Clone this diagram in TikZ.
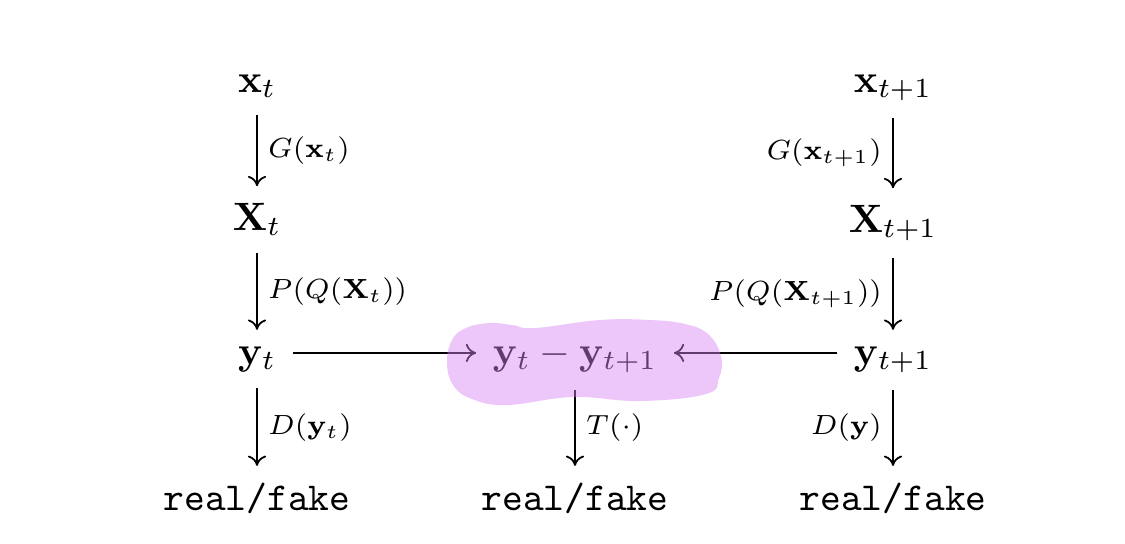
\documentclass[tikz,border=0pt]{standalone}
\usepackage{amssymb,amsmath}
\usepackage{tikz}
\usepackage{xcolor}
\usetikzlibrary{arrows.meta}
\definecolor{highlight}{RGB}{217,133,244}

\begin{document}
\begin{tikzpicture}[
    x=0.2525pt, y=-0.2525pt,
    every node/.style={anchor=base, inner sep=4pt},
    map/.style={-{Computer Modern Rightarrow[length=2.6pt, width=4.6pt]}, line width=0.45pt},
    lab/.style={font=\scriptsize, inner sep=2.6pt}
]
  \fill[white] (0,0) rectangle (1125,543);

  % left column (frame t)
  \node (xt)  at (257,92)  {$\mathbf{x}_t$};
  \node (Xt)  at (257,230) {$\mathbf{X}_t$};
  \node (yt)  at (257,364) {$\mathbf{y}_t$};
  \node (rft) at (257,510) {\texttt{real/fake}};

  % right column (frame t+1)
  \node (xs)  at (893,92)  {$\mathbf{x}_{t+1}$};
  \node (Xs)  at (893,232) {$\mathbf{X}_{t+1}$};
  \node (ys)  at (893,364) {$\mathbf{y}_{t+1}$};
  \node (rfs) at (893,510) {\texttt{real/fake}};

  % middle column (difference)
  \node (yd)  at (575,364) {$\mathbf{y}_t - \mathbf{y}_{t+1}$};
  \node (rfd) at (575,510) {\texttt{real/fake}};

  % vertical maps
  \draw[map] (xt) -- node[lab, right] {$G(\mathbf{x}_t)$} (Xt);
  \draw[map] (Xt) -- node[lab, right] {$P(Q(\mathbf{X}_t))$} (yt);
  \draw[map] (yt) -- node[lab, right] {$D(\mathbf{y}_t)$} (rft);
  \draw[map] (xs) -- node[lab, left] {$G(\mathbf{x}_{t+1})$} (Xs);
  \draw[map] (Xs) -- node[lab, left] {$P(Q(\mathbf{X}_{t+1}))$} (ys);
  \draw[map] (ys) -- node[lab, left] {$D(\mathbf{y})$} (rfs);
  \draw[map] (yd) -- node[lab, right] {$T(\cdot)$} (rfd);

  % horizontal maps
  \draw[map] ([yshift=2.8pt]yt.base east) -- ([yshift=2.8pt]yd.base west);
  \draw[map] ([yshift=2.8pt]ys.base west) -- ([yshift=2.8pt]yd.base east);

  % highlighter stroke
  \fill[highlight, fill opacity=0.45] plot[smooth cycle, tension=0.7] coordinates {
    (447,362) (452,340) (466,328) (490,323) (512,325) (535,328) (600,320)
    (650,320) (685,324) (708,334) (721,356) (719,378) (706,394) (640,401)
    (573,397) (507,405) (472,399) (453,385)};
\end{tikzpicture}
\end{document}
